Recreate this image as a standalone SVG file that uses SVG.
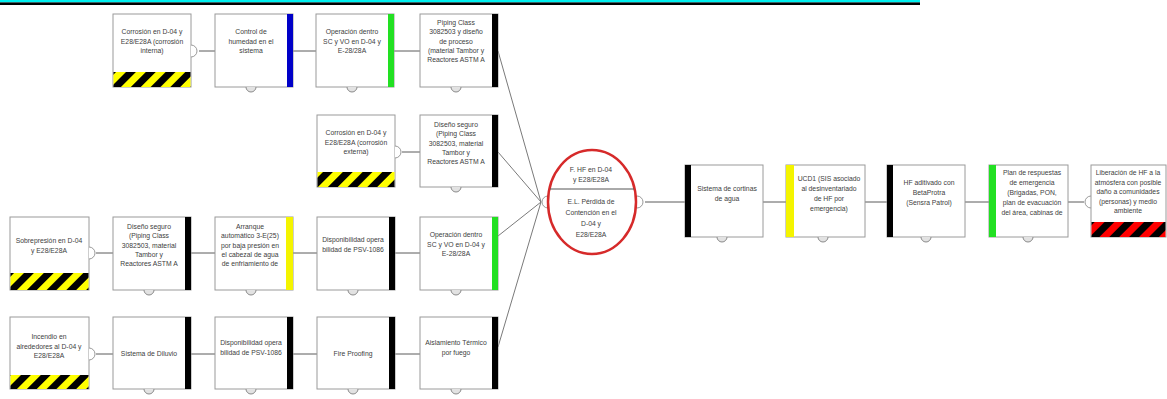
<svg xmlns="http://www.w3.org/2000/svg" width="1167" height="399" viewBox="0 0 1167 399">
<style>
.box{fill:#fff;stroke:#9a9a9a;stroke-width:1}
.t{font-family:"Liberation Sans",Arial,sans-serif;font-size:6.8px;fill:#404040;text-anchor:middle}
.c{stroke:#5a5a5a;stroke-width:1;fill:none}
.cv{stroke:#7a7a7a;stroke-width:1;fill:none}
.knob{fill:#fff;stroke:#999;stroke-width:1}
.bk{fill:#e2e2e2;stroke:#8a8a8a;stroke-width:1}
.blk{fill:#000}
.grn{fill:#22e022}
.yel{fill:#f4f400}
.blu{fill:#0000c8}
</style>
<defs>
<pattern id="hy" patternUnits="userSpaceOnUse" width="14" height="14" patternTransform="rotate(45)">
<rect width="14" height="14" fill="#ffff00"/><rect width="7" height="14" fill="#000"/>
</pattern>
<pattern id="hr" patternUnits="userSpaceOnUse" width="14" height="14" patternTransform="rotate(45)">
<rect width="14" height="14" fill="#ff0000"/><rect width="7" height="14" fill="#000"/>
</pattern>
</defs>
<rect x="0" y="0" width="920" height="2.4" fill="#00f0f0"/>
<rect x="0" y="2.4" width="920" height="2.6" fill="#000"/>

<g id="connectors">
<line class="c" x1="199" y1="51" x2="215" y2="51"/>
<line class="c" x1="293" y1="51" x2="316" y2="51"/>
<line class="c" x1="394" y1="51" x2="420" y2="51"/>
<line class="c" x1="402" y1="152" x2="420" y2="152"/>
<line class="c" x1="96" y1="253" x2="113" y2="253"/>
<line class="c" x1="191" y1="253" x2="215" y2="253"/>
<line class="c" x1="293" y1="253" x2="317" y2="253"/>
<line class="c" x1="395" y1="253" x2="420" y2="253"/>
<line class="c" x1="96" y1="354" x2="113" y2="354"/>
<line class="c" x1="191" y1="354" x2="215" y2="354"/>
<line class="c" x1="293" y1="354" x2="317" y2="354"/>
<line class="c" x1="395" y1="354" x2="420" y2="354"/>
<line class="cv" x1="498" y1="51" x2="541" y2="202"/>
<line class="cv" x1="498" y1="152" x2="541" y2="202"/>
<line class="cv" x1="498" y1="236" x2="541" y2="202"/>
<line class="cv" x1="498" y1="347" x2="541" y2="202"/>
<line class="c" x1="645" y1="202" x2="685" y2="202"/>
<line class="c" x1="763" y1="202" x2="786" y2="202"/>
<line class="c" x1="865" y1="202" x2="887" y2="202"/>
<line class="c" x1="965" y1="202" x2="989" y2="202"/>
<line class="c" x1="1068" y1="202" x2="1084" y2="202"/>
</g>

<g id="nA">
<rect class="box" x="113" y="14" width="78" height="73"/>
<rect x="113.5" y="72" width="77" height="15" fill="url(#hy)"/>
<path class="knob" d="M191,45 A6,6 0 0 1 191,57"/>
<text class="t" y="34"><tspan x="152">Corrosión en D-04  y</tspan><tspan x="152" dy="9.5">E28/E28A (corrosión</tspan><tspan x="152" dy="9.5">interna)</tspan></text>
</g>
<g id="nB">
<rect class="box" x="215" y="14" width="78" height="73"/>
<rect class="blu" x="287" y="14" width="6" height="73"/>
<path class="bk" d="M246,87 A5,5 0 0 0 256,87"/>
<text class="t" y="34"><tspan x="251">Control de</tspan><tspan x="251" dy="9.5">humedad en el</tspan><tspan x="251" dy="9.5">sistema</tspan></text>
</g>
<g id="nC">
<rect class="box" x="316" y="14" width="78" height="73"/>
<rect class="grn" x="388" y="14" width="6" height="73"/>
<path class="bk" d="M347,87 A5,5 0 0 0 357,87"/>
<text class="t" y="34"><tspan x="352">Operación dentro</tspan><tspan x="352" dy="9.5">SC y VO en D-04 y</tspan><tspan x="352" dy="9.5">E-28/28A</tspan></text>
</g>
<g id="nD">
<rect class="box" x="420" y="14" width="78" height="73"/>
<rect class="blk" x="492" y="14" width="6" height="73"/>
<path class="bk" d="M451,87 A5,5 0 0 0 461,87"/>
<text class="t" y="25"><tspan x="456">Piping Class</tspan><tspan x="456" dy="9.3">3082503 y diseño</tspan><tspan x="456" dy="9.3">de proceso</tspan><tspan x="456" dy="9.3">(material Tambor y</tspan><tspan x="456" dy="9.3">Reactores ASTM A</tspan></text>
</g>

<g id="nE">
<rect class="box" x="317" y="115" width="78" height="72"/>
<rect x="317.5" y="172" width="77" height="15" fill="url(#hy)"/>
<path class="knob" d="M395,146 A6,6 0 0 1 395,158"/>
<text class="t" y="135"><tspan x="356">Corrosión en D-04  y</tspan><tspan x="356" dy="9.5">E28/E28A  (corrosión</tspan><tspan x="356" dy="9.5">externa)</tspan></text>
</g>
<g id="nF">
<rect class="box" x="420" y="115" width="78" height="72"/>
<rect class="blk" x="492" y="115" width="6" height="72"/>
<path class="bk" d="M451,187 A5,5 0 0 0 461,187"/>
<text class="t" y="127"><tspan x="456">Diseño seguro</tspan><tspan x="456" dy="9.3">(Piping Class</tspan><tspan x="456" dy="9.3">3082503, material</tspan><tspan x="456" dy="9.3">Tambor y</tspan><tspan x="456" dy="9.3">Reactores ASTM A</tspan></text>
</g>

<g id="nG">
<rect class="box" x="10" y="217" width="79" height="73"/>
<rect x="10.5" y="273" width="78" height="17" fill="url(#hy)"/>
<path class="knob" d="M89,247 A6,6 0 0 1 89,259"/>
<text class="t" y="243"><tspan x="49">Sobrepresión en D-04</tspan><tspan x="49" dy="9.5">y E28/E28A</tspan></text>
</g>
<g id="nH">
<rect class="box" x="113" y="217" width="78" height="73"/>
<rect class="blk" x="185" y="217" width="6" height="73"/>
<path class="bk" d="M144,290 A5,5 0 0 0 154,290"/>
<text class="t" y="229"><tspan x="149">Diseño seguro</tspan><tspan x="149" dy="9.3">(Piping Class</tspan><tspan x="149" dy="9.3">3082503, material</tspan><tspan x="149" dy="9.3">Tambor y</tspan><tspan x="149" dy="9.3">Reactores ASTM A</tspan></text>
</g>
<g id="nI">
<rect class="box" x="215" y="217" width="78" height="73"/>
<rect class="yel" x="286" y="217" width="7" height="73"/>
<path class="bk" d="M246,290 A5,5 0 0 0 256,290"/>
<text class="t" y="229"><tspan x="250">Arranque</tspan><tspan x="250" dy="9.3">automático 3-E(25)</tspan><tspan x="250" dy="9.3">por baja presión en</tspan><tspan x="250" dy="9.3">el cabezal de agua</tspan><tspan x="250" dy="9.3">de enfriamiento de</tspan></text>
</g>
<g id="nJ">
<rect class="box" x="317" y="217" width="78" height="73"/>
<rect class="blk" x="389" y="217" width="6" height="73"/>
<path class="bk" d="M348,290 A5,5 0 0 0 358,290"/>
<text class="t" y="242"><tspan x="353">Disponibilidad opera</tspan><tspan x="353" dy="9.5">bilidad de PSV-1086</tspan></text>
</g>
<g id="nK">
<rect class="box" x="420" y="217" width="78" height="73"/>
<rect class="grn" x="492" y="217" width="6" height="73"/>
<path class="bk" d="M451,290 A5,5 0 0 0 461,290"/>
<text class="t" y="237"><tspan x="456">Operación dentro</tspan><tspan x="456" dy="9.5">SC y VO en D-04 y</tspan><tspan x="456" dy="9.5">E-28/28A</tspan></text>
</g>

<g id="nL">
<rect class="box" x="10" y="317" width="79" height="72"/>
<rect x="10.5" y="375" width="78" height="14" fill="url(#hy)"/>
<path class="knob" d="M89,348 A6,6 0 0 1 89,360"/>
<text class="t" y="339"><tspan x="49">Incendio en</tspan><tspan x="49" dy="9.5">alrededores al D-04  y</tspan><tspan x="49" dy="9.5">E28/E28A</tspan></text>
</g>
<g id="nM">
<rect class="box" x="113" y="317" width="78" height="72"/>
<rect class="blk" x="185" y="317" width="6" height="72"/>
<path class="bk" d="M144,389 A5,5 0 0 0 154,389"/>
<text class="t" x="149" y="356">Sistema de Diluvio</text>
</g>
<g id="nN">
<rect class="box" x="215" y="317" width="78" height="72"/>
<rect class="blk" x="287" y="317" width="6" height="72"/>
<path class="bk" d="M246,389 A5,5 0 0 0 256,389"/>
<text class="t" y="345"><tspan x="251">Disponibilidad opera</tspan><tspan x="251" dy="9.5">bilidad de PSV-1086</tspan></text>
</g>
<g id="nO">
<rect class="box" x="317" y="317" width="78" height="72"/>
<rect class="blk" x="389" y="317" width="6" height="72"/>
<path class="bk" d="M348,389 A5,5 0 0 0 358,389"/>
<text class="t" x="353" y="356">Fire Proofing</text>
</g>
<g id="nP">
<rect class="box" x="420" y="317" width="78" height="72"/>
<rect class="blk" x="492" y="317" width="6" height="72"/>
<path class="bk" d="M451,389 A5,5 0 0 0 461,389"/>
<text class="t" y="345"><tspan x="456">Aislamiento Térmico</tspan><tspan x="456" dy="9.5">por fuego</tspan></text>
</g>

<g id="nTop">
<path class="knob" d="M548,196 A6,6 0 0 0 548,208"/>
<path class="knob" d="M637,196 A6,6 0 0 1 637,208"/>
<ellipse cx="592" cy="202" rx="44" ry="52" fill="#fff" stroke="#d62a2a" stroke-width="2.5"/>
<line x1="550" y1="189" x2="634" y2="189" stroke="#555" stroke-width="1"/>
<text class="t" y="172"><tspan x="591">F. HF en D-04</tspan><tspan x="591" dy="10">y E28/E28A</tspan></text>
<text class="t" y="204"><tspan x="591">E.L.  Pérdida de</tspan><tspan x="591" dy="10.5">Contención en el</tspan><tspan x="591" dy="11">D-04 y</tspan><tspan x="591" dy="11">E28/E28A</tspan></text>
</g>

<g id="nQ">
<rect class="box" x="685" y="165" width="78" height="72"/>
<rect class="blk" x="685" y="165" width="6" height="72"/>
<path class="bk" d="M717,237 A5,5 0 0 0 727,237"/>
<text class="t" y="191"><tspan x="727">Sistema de cortinas</tspan><tspan x="727" dy="10">de agua</tspan></text>
</g>
<g id="nR">
<rect class="box" x="786" y="165" width="79" height="72"/>
<rect class="yel" x="786" y="165" width="8" height="72"/>
<path class="bk" d="M818,237 A5,5 0 0 0 828,237"/>
<text class="t" y="181"><tspan x="829">UCD1 (SIS asociado</tspan><tspan x="829" dy="10">al  desinventariado</tspan><tspan x="829" dy="10">de HF por</tspan><tspan x="829" dy="10">emergencia)</tspan></text>
</g>
<g id="nS">
<rect class="box" x="887" y="165" width="78" height="72"/>
<rect class="blk" x="887" y="165" width="6" height="72"/>
<path class="bk" d="M921,237 A5,5 0 0 0 931,237"/>
<text class="t" y="185"><tspan x="929">HF aditivado con</tspan><tspan x="929" dy="10">BetaProtra</tspan><tspan x="929" dy="10">(Sensra Patrol)</tspan></text>
</g>
<g id="nT">
<rect class="box" x="989" y="165" width="79" height="72"/>
<rect class="grn" x="989" y="165" width="7" height="72"/>
<path class="bk" d="M1023,237 A5,5 0 0 0 1033,237"/>
<text class="t" y="175"><tspan x="1032">Plan de respuestas</tspan><tspan x="1032" dy="10">de emergencia</tspan><tspan x="1032" dy="10">(Brigadas, PON,</tspan><tspan x="1032" dy="10">plan de evacuación</tspan><tspan x="1032" dy="10">del área, cabinas de</tspan></text>
</g>
<g id="nU">
<path class="knob" d="M1091,196 A6,6 0 0 0 1091,208"/>
<rect class="box" x="1091" y="165" width="75" height="72"/>
<rect x="1091.5" y="222" width="74" height="15" fill="url(#hr)"/>
<text class="t" y="175"><tspan x="1128">Liberación de HF a la</tspan><tspan x="1128" dy="9.5">atmósfera con posible</tspan><tspan x="1128" dy="9.5">daño a comunidades</tspan><tspan x="1128" dy="9.5">(personas) y medio</tspan><tspan x="1128" dy="9.5">ambiente</tspan></text>
</g>
</svg>
